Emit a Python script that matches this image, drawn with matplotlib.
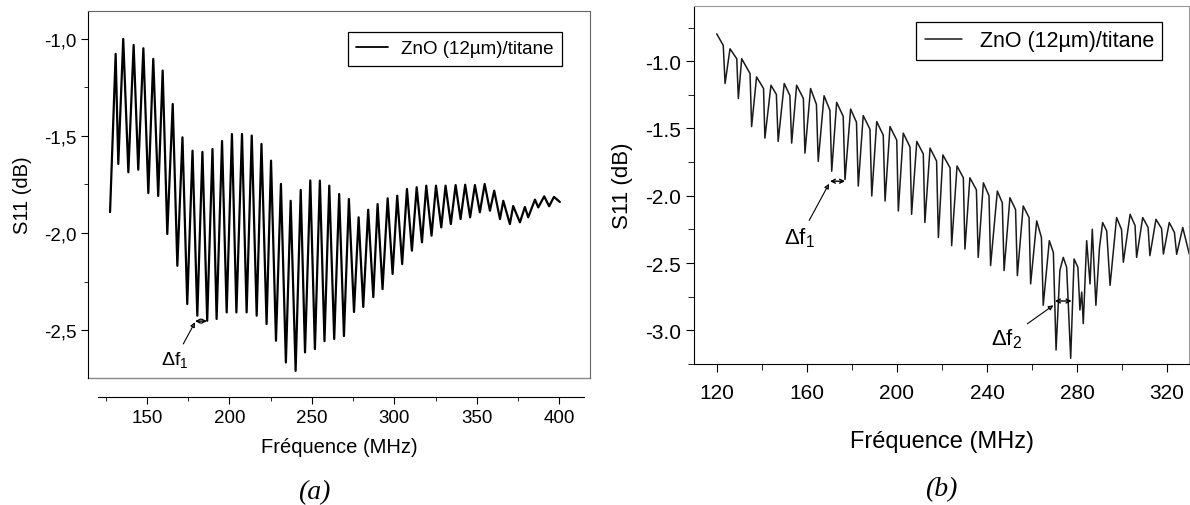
import matplotlib.pyplot as plt
from matplotlib.ticker import MultipleLocator, FuncFormatter

plt.rcParams['font.family'] = ['Liberation Sans', 'DejaVu Sans']
plt.rcParams['mathtext.fontset'] = 'custom'
plt.rcParams['mathtext.rm'] = 'Liberation Sans'
plt.rcParams['mathtext.it'] = 'Liberation Sans:italic'
plt.rcParams['axes.unicode_minus'] = False

# (a) S11 vs frequency, peaks and dips (MHz, dB)
freq_a = [127.6, 131.0, 132.6, 135.6, 138.7, 141.9, 144.7, 147.8, 150.8, 153.8,
          156.8, 159.5, 162.3, 165.6, 168.4, 171.5, 174.4, 177.6, 180.5, 183.6,
          186.5, 189.7, 192.2, 195.5, 198.3, 201.5, 204.2, 207.6, 210.4, 213.5,
          216.5, 219.4, 222.5, 225.2, 228.2, 231.2, 234.2, 237.1, 240.1, 243.2,
          245.8, 249.0, 251.8, 254.8, 257.6, 260.5, 263.5, 266.5, 269.4, 272.4,
          275.5, 278.3, 281.1, 284.1, 287.2, 289.8, 292.8, 295.9, 298.9, 301.7,
          304.7, 307.6, 310.6, 313.5, 316.7, 319.3, 322.5, 325.2, 328.4, 331.0,
          334.2, 337.1, 340.1, 342.9, 345.9, 348.8, 351.8, 354.7, 357.9, 360.5,
          364.0, 366.0, 370.0, 372.0, 376.1, 379.1, 381.1, 385.2, 387.2, 390.8,
          393.8, 396.7, 400.3]
s11_a = [-1.892, -1.077, -1.644, -1.000, -1.687, -1.031, -1.674, -1.048, -1.794, -1.103,
         -1.809, -1.163, -2.005, -1.335, -2.169, -1.507, -2.366, -1.576, -2.426, -1.582,
         -2.452, -1.567, -2.443, -1.526, -2.409, -1.490, -2.409, -1.490, -2.409, -1.498,
         -2.426, -1.541, -2.469, -1.627, -2.555, -1.747, -2.667, -1.834, -2.710, -1.778,
         -2.615, -1.729, -2.598, -1.730, -2.557, -1.756, -2.546, -1.799, -2.531, -1.825,
         -2.407, -1.919, -2.381, -1.880, -2.330, -1.851, -2.289, -1.821, -2.211, -1.808,
         -2.160, -1.773, -2.091, -1.764, -2.048, -1.756, -2.014, -1.756, -1.971, -1.756,
         -1.954, -1.753, -1.928, -1.751, -1.919, -1.753, -1.893, -1.747, -1.885, -1.782,
         -1.928, -1.834, -1.954, -1.861, -1.945, -1.866, -1.919, -1.828, -1.868, -1.811,
         -1.862, -1.814, -1.840]

# (b) S11 vs frequency, hump tops, shoulders and dips (MHz, dB)
freq_b = [119.9, 122.8, 123.6, 125.8, 128.8, 129.5, 131.0, 134.7, 135.4, 137.6,
          140.7, 141.3, 144.0, 146.4, 147.2, 149.9, 152.4, 153.2, 155.4, 158.4,
          159.1, 161.6, 164.2, 165.0, 167.6, 170.2, 171.0, 173.2, 176.1, 176.9,
          179.4, 182.0, 182.8, 185.0, 188.0, 188.8, 191.0, 193.9, 194.7, 196.9,
          199.9, 200.6, 202.8, 205.8, 206.5, 208.8, 211.7, 212.4, 214.7, 217.6,
          218.4, 220.4, 223.6, 224.3, 226.7, 229.5, 230.2, 232.4, 235.3, 236.1,
          238.4, 240.9, 241.6, 244.6, 246.8, 247.6, 250.2, 252.7, 253.5, 256.1,
          258.7, 259.4, 262.1, 264.2, 265.0, 267.7, 269.5, 270.7, 272.4, 273.9,
          275.4, 277.2, 278.7, 280.4, 281.3, 282.1, 282.8, 284.3, 285.8, 286.8,
          288.4, 290.0, 291.4, 293.2, 294.7, 297.6, 299.8, 300.6, 303.6, 305.8,
          306.5, 309.2, 311.6, 312.4, 315.1, 317.6, 318.4, 321.0, 323.3, 324.3,
          327.0, 329.9]
s11_b = [-0.797, -0.883, -1.166, -0.908, -0.982, -1.277, -0.982, -1.092, -1.486, -1.117,
         -1.203, -1.572, -1.179, -1.247, -1.596, -1.166, -1.255, -1.609, -1.179, -1.277,
         -1.683, -1.203, -1.321, -1.744, -1.257, -1.365, -1.818, -1.306, -1.410, -1.880,
         -1.356, -1.454, -1.928, -1.404, -1.506, -2.002, -1.449, -1.550, -2.039, -1.486,
         -1.587, -2.113, -1.535, -1.638, -2.138, -1.596, -1.690, -2.199, -1.646, -1.742,
         -2.310, -1.697, -1.793, -2.371, -1.779, -1.867, -2.396, -1.867, -1.956, -2.458,
         -1.904, -2.000, -2.519, -1.965, -2.052, -2.556, -2.015, -2.103, -2.593, -2.076,
         -2.162, -2.655, -2.187, -2.310, -2.814, -2.334, -2.421, -3.146, -2.554, -2.458,
         -2.531, -3.208, -2.470, -2.531, -2.849, -2.716, -2.950, -2.334, -2.655, -2.249,
         -2.814, -2.384, -2.199, -2.261, -2.666, -2.162, -2.251, -2.494, -2.138, -2.221,
         -2.458, -2.162, -2.236, -2.445, -2.175, -2.244, -2.433, -2.199, -2.273, -2.435,
         -2.236, -2.433]

label = 'ZnO (12µm)/titane'

fig = plt.figure(figsize=(11.9, 5.06), dpi=100)

# ---------- panel (a) ----------
ax1 = fig.add_axes([0.0739, 0.251, 0.4218, 0.7253])
ax1.plot(freq_a, s11_a, color='black', lw=1.6, label=label,
         solid_joinstyle='round', solid_capstyle='round')
ax1.set_xlim(114.2, 418.5)
ax1.set_ylim(-2.747, -0.856)

ax1.spines['bottom'].set_position(('outward', 14))
ax1.spines['bottom'].set_bounds(120, 415)
for s in ['top', 'right']:
    ax1.spines[s].set_color('#666666')
ax1.plot([0, 1], [0, 0], transform=ax1.transAxes, color='#888888', lw=1, clip_on=False)

ax1.xaxis.set_major_locator(MultipleLocator(50))
ax1.xaxis.set_minor_locator(MultipleLocator(25))
ax1.yaxis.set_major_locator(MultipleLocator(0.5))
ax1.yaxis.set_minor_locator(MultipleLocator(0.25))
ax1.yaxis.set_major_formatter(FuncFormatter(lambda v, _: f'{v:.1f}'.replace('.', ',')))
ax1.tick_params(which='major', direction='out', length=5, labelsize=13.5)
ax1.tick_params(which='minor', direction='out', length=3)
ax1.set_xlabel('Fréquence (MHz)', fontsize=14.5)
ax1.set_ylabel('S11 (dB)', fontsize=14.5)
ax1.xaxis.set_label_coords(0.5, -0.16)
ax1.yaxis.set_label_coords(-0.112, 0.5)

leg1 = ax1.legend(loc='upper right', bbox_to_anchor=(0.9635, 0.969), fontsize=13.5,
                  fancybox=False, edgecolor='black', handlelength=1.7,
                  handletextpad=0.7, borderpad=0.45, framealpha=1)
leg1.get_frame().set_linewidth(0.9)
leg1.get_lines()[0].set_linewidth(1.3)

ax1.annotate('', xy=(186.4, -2.454), xytext=(179.1, -2.454),
             arrowprops=dict(arrowstyle='<->', lw=1, mutation_scale=7, shrinkA=0, shrinkB=0))
ax1.annotate('Δf$_1$', xy=(179.1, -2.46), xytext=(167.0, -2.65), fontsize=14,
             ha='center', va='center',
             arrowprops=dict(arrowstyle='-|>', lw=0.8, mutation_scale=7, shrinkA=2, shrinkB=0))

# ---------- panel (b) ----------
ax2 = fig.add_axes([0.5832, 0.2787, 0.416, 0.7075])
ax2.plot(freq_b, s11_b, color='#1a1a1a', lw=1.1, label=label,
         solid_joinstyle='round', solid_capstyle='round')
ax2.set_xlim(109.8, 329.8)
ax2.set_ylim(-3.25, -0.59)
for s in ['top', 'right']:
    ax2.spines[s].set_color('#999999')

ax2.xaxis.set_major_locator(MultipleLocator(40))
ax2.xaxis.set_minor_locator(MultipleLocator(20))
ax2.yaxis.set_major_locator(MultipleLocator(0.5))
ax2.yaxis.set_minor_locator(MultipleLocator(0.25))
ax2.yaxis.set_major_formatter(FuncFormatter(lambda v, _: f'{v:.1f}'))
ax2.tick_params(which='major', direction='out', length=6, labelsize=15)
ax2.tick_params(which='minor', direction='out', length=4)
ax2.tick_params(axis='x', which='major', pad=8)
ax2.set_xlabel('Fréquence (MHz)', fontsize=17)
ax2.set_ylabel('S11 (dB)', fontsize=16)
ax2.xaxis.set_label_coords(0.5, -0.185)
ax2.yaxis.set_label_coords(-0.123, 0.5)

leg2 = ax2.legend(loc='upper right', bbox_to_anchor=(0.968, 0.986), fontsize=15.5,
                  fancybox=False, edgecolor='black', handlelength=1.75,
                  handletextpad=0.8, borderpad=0.4, framealpha=1)
leg2.get_frame().set_linewidth(0.9)

ax2.annotate('', xy=(176.9, -1.892), xytext=(170.2, -1.892),
             arrowprops=dict(arrowstyle='<->', lw=1, mutation_scale=7, shrinkA=0, shrinkB=0))
ax2.annotate('Δf$_1$', xy=(169.8, -1.911), xytext=(156.9, -2.31), fontsize=16,
             ha='center', va='center',
             arrowprops=dict(arrowstyle='-|>', lw=0.8, mutation_scale=7, shrinkA=2, shrinkB=0))
ax2.annotate('', xy=(277.6, -2.782), xytext=(270.2, -2.782),
             arrowprops=dict(arrowstyle='<->', lw=1, mutation_scale=7, shrinkA=0, shrinkB=0))
ax2.annotate('Δf$_2$', xy=(269.5, -2.814), xytext=(248.8, -3.06), fontsize=16,
             ha='center', va='center',
             arrowprops=dict(arrowstyle='-|>', lw=0.8, mutation_scale=7, shrinkA=2, shrinkB=0))

fig.text(0.264, 0.026, '(a)', fontsize=20, style='italic', family='Liberation Serif',
         ha='center', va='center')
fig.text(0.791, 0.032, '(b)', fontsize=20, style='italic', family='Liberation Serif',
         ha='center', va='center')

fig.savefig('out.png', dpi=100)
